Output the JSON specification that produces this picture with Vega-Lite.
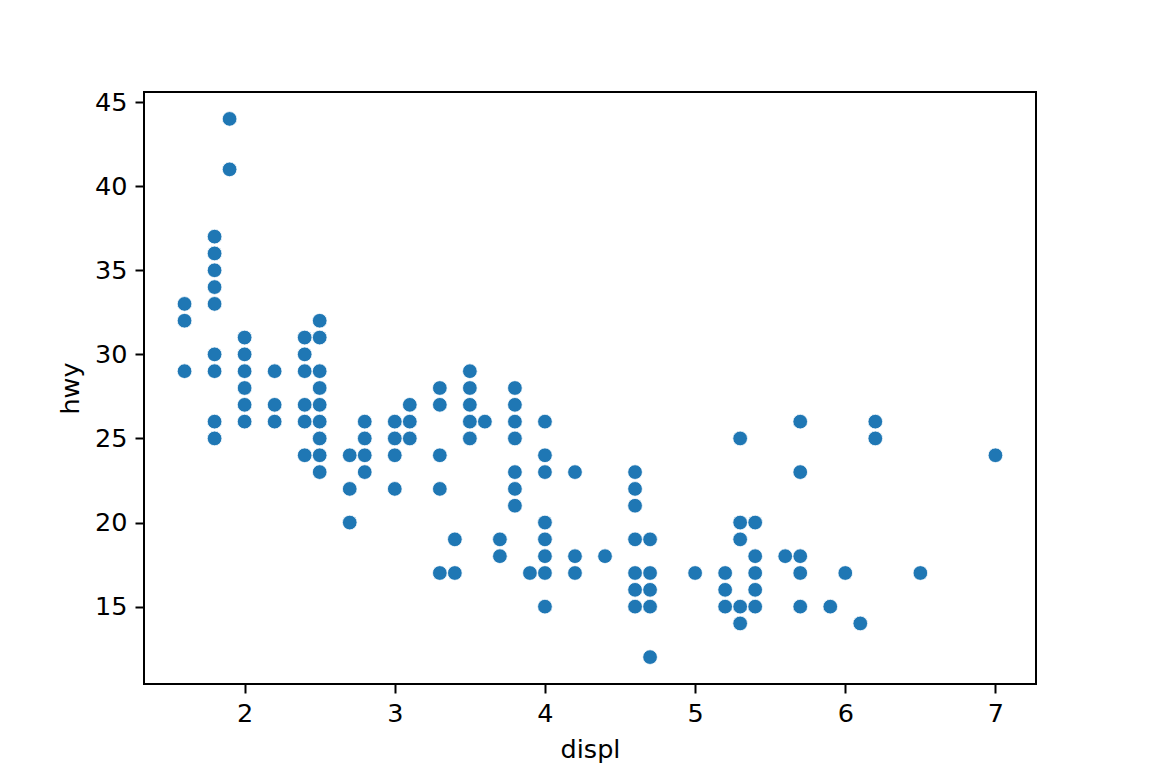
{
  "$schema": "https://vega.github.io/schema/vega-lite/v6.json",
  "width": 892,
  "height": 592,
  "autosize": {"type": "none"},
  "padding": {"left": 144, "top": 92, "right": 116, "bottom": 84},
  "background": "white",
  "config": {
    "view": {"stroke": "black", "strokeWidth": 2},
    "font": "DejaVu Sans",
    "axis": {
      "domain": false,
      "grid": false,
      "ticks": true,
      "tickColor": "black",
      "tickWidth": 2,
      "tickSize": 9,
      "labelFont": "DejaVu Sans",
      "labelFontSize": 25.5,
      "labelColor": "black",
      "labelPadding": 8,
      "titleFont": "DejaVu Sans",
      "titleFontSize": 25.5,
      "titleFontWeight": "normal",
      "titleColor": "black",
      "titlePadding": 11
    }
  },
  "data": {
    "values": [
      {"displ": 1.6, "hwy": 33}, {"displ": 1.6, "hwy": 32}, {"displ": 1.6, "hwy": 29},
      {"displ": 1.8, "hwy": 37}, {"displ": 1.8, "hwy": 36}, {"displ": 1.8, "hwy": 35}, {"displ": 1.8, "hwy": 34}, {"displ": 1.8, "hwy": 33}, {"displ": 1.8, "hwy": 30}, {"displ": 1.8, "hwy": 29}, {"displ": 1.8, "hwy": 26}, {"displ": 1.8, "hwy": 25},
      {"displ": 1.9, "hwy": 44}, {"displ": 1.9, "hwy": 41},
      {"displ": 2.0, "hwy": 31}, {"displ": 2.0, "hwy": 30}, {"displ": 2.0, "hwy": 29}, {"displ": 2.0, "hwy": 28}, {"displ": 2.0, "hwy": 27}, {"displ": 2.0, "hwy": 26},
      {"displ": 2.2, "hwy": 29}, {"displ": 2.2, "hwy": 27}, {"displ": 2.2, "hwy": 26},
      {"displ": 2.4, "hwy": 31}, {"displ": 2.4, "hwy": 30}, {"displ": 2.4, "hwy": 29}, {"displ": 2.4, "hwy": 27}, {"displ": 2.4, "hwy": 26}, {"displ": 2.4, "hwy": 24},
      {"displ": 2.5, "hwy": 32}, {"displ": 2.5, "hwy": 31}, {"displ": 2.5, "hwy": 29}, {"displ": 2.5, "hwy": 28}, {"displ": 2.5, "hwy": 27}, {"displ": 2.5, "hwy": 26}, {"displ": 2.5, "hwy": 25}, {"displ": 2.5, "hwy": 24}, {"displ": 2.5, "hwy": 23},
      {"displ": 2.7, "hwy": 24}, {"displ": 2.7, "hwy": 22}, {"displ": 2.7, "hwy": 20},
      {"displ": 2.8, "hwy": 26}, {"displ": 2.8, "hwy": 25}, {"displ": 2.8, "hwy": 24}, {"displ": 2.8, "hwy": 23},
      {"displ": 3.0, "hwy": 26}, {"displ": 3.0, "hwy": 25}, {"displ": 3.0, "hwy": 24}, {"displ": 3.0, "hwy": 22},
      {"displ": 3.1, "hwy": 27}, {"displ": 3.1, "hwy": 26}, {"displ": 3.1, "hwy": 25},
      {"displ": 3.3, "hwy": 28}, {"displ": 3.3, "hwy": 27}, {"displ": 3.3, "hwy": 24}, {"displ": 3.3, "hwy": 22}, {"displ": 3.3, "hwy": 17},
      {"displ": 3.4, "hwy": 19}, {"displ": 3.4, "hwy": 17},
      {"displ": 3.5, "hwy": 29}, {"displ": 3.5, "hwy": 28}, {"displ": 3.5, "hwy": 27}, {"displ": 3.5, "hwy": 26}, {"displ": 3.5, "hwy": 25},
      {"displ": 3.6, "hwy": 26},
      {"displ": 3.7, "hwy": 19}, {"displ": 3.7, "hwy": 18},
      {"displ": 3.8, "hwy": 28}, {"displ": 3.8, "hwy": 27}, {"displ": 3.8, "hwy": 26}, {"displ": 3.8, "hwy": 25}, {"displ": 3.8, "hwy": 23}, {"displ": 3.8, "hwy": 22}, {"displ": 3.8, "hwy": 21},
      {"displ": 3.9, "hwy": 17},
      {"displ": 4.0, "hwy": 26}, {"displ": 4.0, "hwy": 24}, {"displ": 4.0, "hwy": 23}, {"displ": 4.0, "hwy": 20}, {"displ": 4.0, "hwy": 19}, {"displ": 4.0, "hwy": 18}, {"displ": 4.0, "hwy": 17}, {"displ": 4.0, "hwy": 15},
      {"displ": 4.2, "hwy": 23}, {"displ": 4.2, "hwy": 18}, {"displ": 4.2, "hwy": 17},
      {"displ": 4.4, "hwy": 18},
      {"displ": 4.6, "hwy": 23}, {"displ": 4.6, "hwy": 22}, {"displ": 4.6, "hwy": 21}, {"displ": 4.6, "hwy": 19}, {"displ": 4.6, "hwy": 17}, {"displ": 4.6, "hwy": 16}, {"displ": 4.6, "hwy": 15},
      {"displ": 4.7, "hwy": 19}, {"displ": 4.7, "hwy": 17}, {"displ": 4.7, "hwy": 16}, {"displ": 4.7, "hwy": 15}, {"displ": 4.7, "hwy": 12},
      {"displ": 5.0, "hwy": 17},
      {"displ": 5.2, "hwy": 17}, {"displ": 5.2, "hwy": 16}, {"displ": 5.2, "hwy": 15},
      {"displ": 5.3, "hwy": 25}, {"displ": 5.3, "hwy": 20}, {"displ": 5.3, "hwy": 19}, {"displ": 5.3, "hwy": 15}, {"displ": 5.3, "hwy": 14},
      {"displ": 5.4, "hwy": 20}, {"displ": 5.4, "hwy": 18}, {"displ": 5.4, "hwy": 17}, {"displ": 5.4, "hwy": 16}, {"displ": 5.4, "hwy": 15},
      {"displ": 5.6, "hwy": 18},
      {"displ": 5.7, "hwy": 26}, {"displ": 5.7, "hwy": 23}, {"displ": 5.7, "hwy": 18}, {"displ": 5.7, "hwy": 17}, {"displ": 5.7, "hwy": 15},
      {"displ": 5.9, "hwy": 15},
      {"displ": 6.0, "hwy": 17},
      {"displ": 6.1, "hwy": 14},
      {"displ": 6.2, "hwy": 26}, {"displ": 6.2, "hwy": 25},
      {"displ": 6.5, "hwy": 17},
      {"displ": 7.0, "hwy": 24}
    ]
  },
  "mark": {"type": "point", "filled": true, "shape": "circle", "size": 215, "color": "#1f77b4", "opacity": 1, "stroke": "white", "strokeWidth": 0.8},
  "encoding": {
    "x": {
      "field": "displ", "type": "quantitative", "title": "displ",
      "scale": {"domain": [1.33, 7.27], "zero": false, "nice": false},
      "axis": {"values": [2, 3, 4, 5, 6, 7], "format": "d"}
    },
    "y": {
      "field": "hwy", "type": "quantitative", "title": "hwy",
      "scale": {"domain": [10.4, 45.6], "zero": false, "nice": false},
      "axis": {"values": [15, 20, 25, 30, 35, 40, 45], "format": "d"}
    }
  }
}
